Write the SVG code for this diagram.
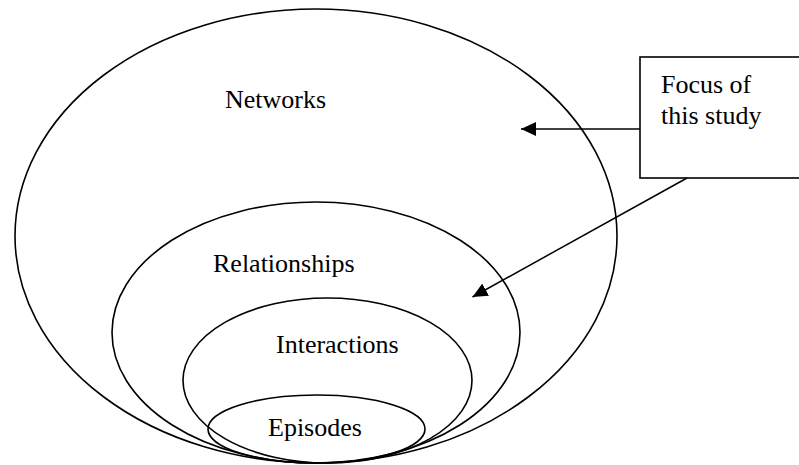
<svg xmlns="http://www.w3.org/2000/svg" width="799" height="465" viewBox="0 0 799 465">
  <style>
    .ring { fill: none; stroke: #000; stroke-width: 1.6; }
    .label { font-family: "Liberation Serif", "Times New Roman", serif; font-size: 26px; fill: #000; }
    .link { fill: none; stroke: #000; stroke-width: 1.5; }
    .box { fill: #fff; stroke: #000; stroke-width: 1.6; }
  </style>
  <defs>
    <marker id="head" markerWidth="15" markerHeight="14" refX="15" refY="7" orient="auto" markerUnits="userSpaceOnUse">
      <path d="M0,0 L15,7 L0,14 Z" fill="#000"/>
    </marker>
  </defs>

  <g id="networks">
    <ellipse class="ring" cx="316" cy="236" rx="301" ry="227"/>
    <text class="label" x="225" y="108">Networks</text>
  </g>

  <g id="relationships">
    <ellipse class="ring" cx="316" cy="332.5" rx="204" ry="130.5"/>
    <text class="label" x="213" y="272">Relationships</text>
  </g>

  <g id="interactions">
    <ellipse class="ring" cx="327.5" cy="380.5" rx="144.5" ry="82.5"/>
    <text class="label" x="276" y="353">Interactions</text>
  </g>

  <g id="episodes">
    <ellipse class="ring" cx="316.5" cy="429" rx="108.5" ry="34"/>
    <text class="label" x="268" y="436">Episodes</text>
  </g>

  <g id="focus">
    <rect class="box" x="640" y="57" width="175" height="121"/>
    <text class="label" x="661" y="93">Focus of</text>
    <text class="label" x="661" y="124">this study</text>
  </g>

  <g id="connectors">
    <line class="link" x1="640" y1="129" x2="521" y2="129" marker-end="url(#head)"/>
    <line class="link" x1="687" y1="178" x2="472.5" y2="297" marker-end="url(#head)"/>
  </g>
</svg>
